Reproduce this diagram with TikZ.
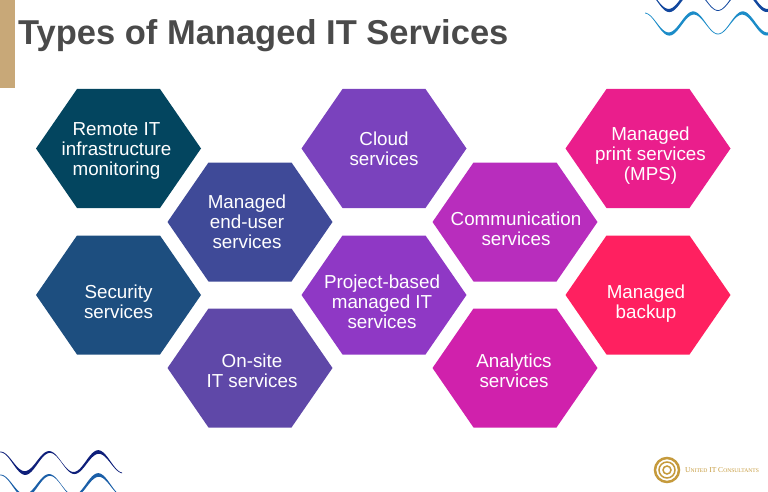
\documentclass[tikz,border=0pt]{standalone}
\usepackage{fontspec}
\setmainfont{Liberation Sans}
\newfontfamily\logofont{Liberation Serif}

\definecolor{titlegray}{HTML}{4A4A4A}
\definecolor{papertan}{HTML}{C8A878}
\definecolor{logogold}{HTML}{C59A3C}
\definecolor{wavenavy}{HTML}{0E1F7A}
\definecolor{waveblue}{HTML}{1B5FA8}
\definecolor{wavedark}{HTML}{12479E}
\definecolor{wavelight}{HTML}{1C8CC8}
\definecolor{hexremote}{HTML}{03455F}
\definecolor{hexsecurity}{HTML}{1D4E7F}
\definecolor{hexenduser}{HTML}{3F4A98}
\definecolor{hexonsite}{HTML}{5F48A8}
\definecolor{hexcloud}{HTML}{7A42BD}
\definecolor{hexproject}{HTML}{8F38C5}
\definecolor{hexcomm}{HTML}{B82DBD}
\definecolor{hexanalytics}{HTML}{D021AC}
\definecolor{hexprint}{HTML}{EA1E8C}
\definecolor{hexbackup}{HTML}{FF2060}

\tikzset{
  hexlabel/.style={inner sep=0pt, text=white, align=center,
    font=\fontsize{18.8}{20}\selectfont}
}

% name, hexagon centre, label centre, colour, text
\newcommand{\hexcell}[5]{
  \fill[#4] (#2) ++(-82.5,0) -- ++(41,-59.5) -- ++(83,0) -- ++(41,59.5)
    -- ++(-41,59.5) -- ++(-83,0) -- cycle;
  \node[hexlabel] (#1) at (#3) {#5};
}

% x0 x1 ymid trough colour
\newcommand{\wavefill}[5]{
  \fill[#5] plot[domain=#1:#2,samples=90,smooth]
      (\x,{#3+10.5*cos(360/49*(\x-#4))-(.4+1.6*pow(sin(360/(#2-#1)*(\x-#1)),2))})
    -- plot[domain=#2:#1,samples=90,smooth]
      (\x,{#3+10.5*cos(360/49*(\x-#4))+(.4+1.6*pow(sin(360/(#2-#1)*(\x-#1)),2))})
    -- cycle;
}

\begin{document}
\begin{tikzpicture}[x=1pt,y=-1pt]
\useasboundingbox (0,0) rectangle (768,492);
\clip (0,0) rectangle (768,492);

\fill[papertan] (0,0) rectangle (15,88);
\node[anchor=base west,text=titlegray,inner sep=0pt,font=\fontsize{34.5}{40}\selectfont\bfseries] (title) at (18,45) {Types of Managed IT Services};

% hexagons, column by column
\hexcell{remote}{118.5,148.5}{116.5,151}{hexremote}{Remote IT\\infrastructure\\monitoring}
\hexcell{security}{118.5,295}{118.5,302}{hexsecurity}{Security\\services}
\hexcell{enduser}{250,222}{247,222}{hexenduser}{Managed\\end-user\\services}
\hexcell{onsite}{250,368}{252,371}{hexonsite}{On-site\\IT services}
\hexcell{cloud}{384,148.5}{384,149}{hexcloud}{Cloud\\services}
\hexcell{project}{384,295}{382,302}{hexproject}{Project-based\\managed IT\\services}
\hexcell{comm}{515,222}{516,229}{hexcomm}{Communication\\services}
\hexcell{analytics}{515,368}{514,371}{hexanalytics}{Analytics\\services}
\hexcell{print}{648,148.5}{650.5,156}{hexprint}{Managed\\print services\\(MPS)}
\hexcell{backup}{648,295}{646,304}{hexbackup}{Managed\\backup}

% waves
\wavefill{645}{790}{0}{669}{wavedark}
\wavefill{645}{790}{23.5}{669}{wavelight}
\wavefill{0}{122}{462.5}{25}{wavenavy}
\wavefill{0}{122}{485.5}{25}{waveblue}

% logo
\foreach \r/\w in {12/2.5,8/1.5,4/1.5}
  \draw[logogold,line width=\w pt] (667,470) circle (\r);
\node[anchor=west,inner sep=0pt,text=logogold,font=\logofont\fontsize{7.5}{9}\selectfont] (logo) at (685,470)
  {U{\fontsize{5.6}{7}\selectfont NITED} IT C{\fontsize{5.6}{7}\selectfont ONSULTANTS}};
\end{tikzpicture}
\end{document}
